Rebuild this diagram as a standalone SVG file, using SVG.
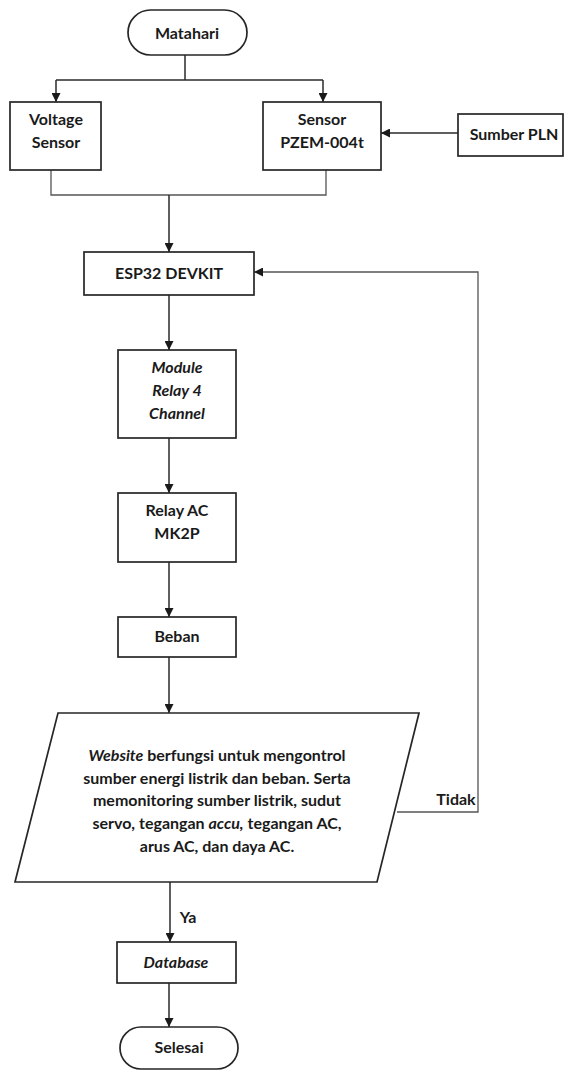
<svg xmlns="http://www.w3.org/2000/svg" width="564" height="1070" viewBox="0 0 564 1070">
<style>
.box{fill:#fff;stroke:#262626;stroke-width:1.7}
.t{font-family:Lato,"Liberation Sans",sans-serif;font-weight:bold;font-size:16px;fill:#1a1a1a;text-anchor:middle}
.i{font-style:italic}
.c{fill:none;stroke:#2a2a2a;stroke-width:1.5}
.c2{fill:none;stroke:#555;stroke-width:1.3}
</style>
<defs>
<marker id="ar" viewBox="0 0 10 10" refX="10" refY="5" markerWidth="9" markerHeight="9" markerUnits="userSpaceOnUse" orient="auto">
<path d="M0,0 L10,5 L0,10 z" fill="#1a1a1a"/>
</marker>
</defs>
<rect width="564" height="1070" fill="#fff"/>
<g id="connectors">
<path class="c" d="M185,55 V80"/>
<path class="c" d="M56,80 H323" />
<path class="c" d="M56,80 V102" marker-end="url(#ar)"/>
<path class="c" d="M323,80 V102" marker-end="url(#ar)"/>
<path class="c" d="M458,133 H381" marker-end="url(#ar)"/>
<path class="c2" d="M51,170 V195 H326 V170"/>
<path class="c" d="M169,195 V252" marker-end="url(#ar)"/>
<path class="c" d="M169,295 V350" marker-end="url(#ar)"/>
<path class="c" d="M169,438 V493" marker-end="url(#ar)"/>
<path class="c" d="M169,562 V617" marker-end="url(#ar)"/>
<path class="c" d="M169,657 V713" marker-end="url(#ar)"/>
<path class="c" d="M170,882 V942" marker-end="url(#ar)"/>
<path class="c" d="M169,983 V1027" marker-end="url(#ar)"/>
<path class="c2" d="M397,812 H478 V272 H254" marker-end="url(#ar)"/>
<text class="t" x="456" y="805">Tidak</text>
<text class="t" x="188" y="923">Ya</text>
</g>
<g id="matahari">
<rect class="box" x="128" y="10" width="119" height="45" rx="22.5"/>
<text class="t" x="187" y="39">Matahari</text>
</g>
<g id="voltage">
<rect class="box" x="10" y="102" width="91" height="68"/>
<text class="t" x="56" y="125">Voltage</text>
<text class="t" x="56" y="148">Sensor</text>
</g>
<g id="pzem">
<rect class="box" x="263" y="102" width="118" height="68"/>
<text class="t" x="322" y="125">Sensor</text>
<text class="t" x="322" y="148">PZEM-004t</text>
</g>
<g id="pln">
<rect class="box" x="458" y="114" width="105" height="42"/>
<text class="t" x="514" y="140">Sumber PLN</text>
</g>
<g id="esp32">
<rect class="box" x="84" y="252" width="170" height="43"/>
<text class="t" x="169" y="279">ESP32 DEVKIT</text>
</g>
<g id="module">
<rect class="box" x="118" y="350" width="118" height="88"/>
<text class="t i" x="177" y="373">Module</text>
<text class="t i" x="177" y="396">Relay 4</text>
<text class="t i" x="177" y="419">Channel</text>
</g>
<g id="relayac">
<rect class="box" x="118" y="493" width="118" height="69"/>
<text class="t" x="177" y="516">Relay AC</text>
<text class="t" x="177" y="539">MK2P</text>
</g>
<g id="beban">
<rect class="box" x="118" y="617" width="118" height="40"/>
<text class="t" x="177" y="642">Beban</text>
</g>
<g id="website">
<polygon class="box" points="58,713 419,713 377,882 15,882"/>
<text class="t" x="217" y="761"><tspan class="i">Website</tspan> berfungsi untuk mengontrol</text>
<text class="t" x="217" y="784">sumber energi listrik dan beban. Serta</text>
<text class="t" x="217" y="806">memonitoring sumber listrik, sudut</text>
<text class="t" x="217" y="829">servo, tegangan <tspan class="i">accu,</tspan> tegangan AC,</text>
<text class="t" x="217" y="852">arus AC, dan daya AC.</text>
</g>
<g id="database">
<rect class="box" x="117" y="942" width="119" height="41"/>
<text class="t i" x="176" y="968">Database</text>
</g>
<g id="selesai">
<rect class="box" x="120" y="1027" width="118" height="42" rx="21"/>
<text class="t" x="179" y="1053">Selesai</text>
</g>
</svg>
